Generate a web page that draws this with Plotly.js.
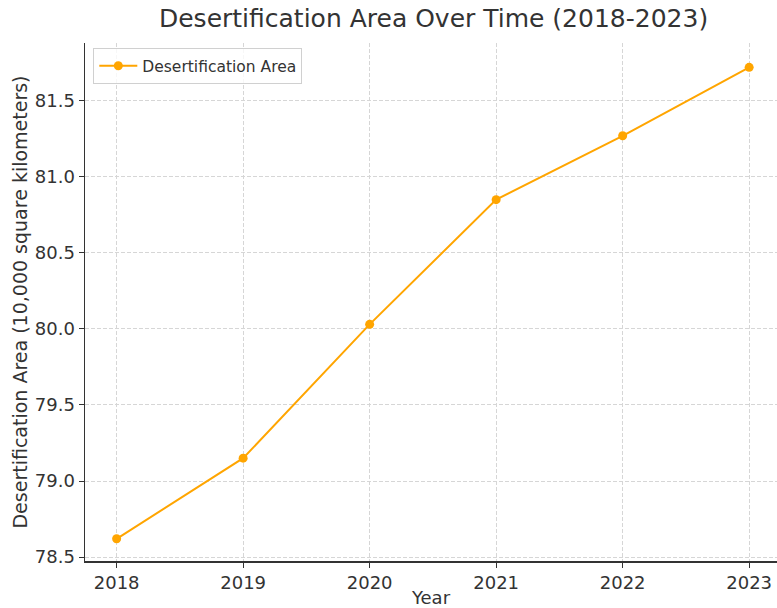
<!DOCTYPE html>
<html>
<head>
<meta charset="utf-8">
<script src="https://cdn.plot.ly/plotly-3.0.1.min.js"></script>
<style>html,body{margin:0;padding:0;background:#fff;overflow:hidden}</style>
</head>
<body>
<div id="chart" style="width:777px;height:608px"></div>
<script>
const years = [2018, 2019, 2020, 2021, 2022, 2023];
const area = [78.62, 79.15, 80.03, 80.85, 81.27, 81.72];
const yTicks = [78.5, 79.0, 79.5, 80.0, 80.5, 81.0, 81.5];
const yTickText = ["78.5", "79.0", "79.5", "80.0", "80.5", "81.0", "81.5"];

const trace = {
  x: years, y: area, type: 'scatter', mode: 'lines+markers',
  name: 'Desertification Area',
  line: {color: '#FFA500', width: 2},
  marker: {color: '#FFA500', size: 9}
};
const font = {family: 'DejaVu Sans, sans-serif', color: '#333333'};
const layout = {
  width: 777, height: 608,
  margin: {l: 85, r: 0, t: 43, b: 47},
  paper_bgcolor: '#fff', plot_bgcolor: '#fff',
  font: font,
  title: {text: 'Desertification Area Over Time (2018-2023)', font: {family: font.family, size: 25, color: '#333333'}, x: 0.558, xanchor: 'center', y: 0.985, yanchor: 'top'},
  showlegend: true,
  legend: {x: 0.012, y: 0.99, xanchor: 'left', yanchor: 'top', bgcolor: 'rgba(255,255,255,0.8)', bordercolor: '#d0d0d0', borderwidth: 1, itemwidth: 38, font: {family: font.family, size: 15.5, color: '#333333'}},
  xaxis: {
    range: [2017.75, 2023.22], tickvals: years, ticktext: years.map(String),
    showgrid: true, gridcolor: '#d6d6d6', griddash: '4px,2px', gridwidth: 1,
    showline: true, linecolor: '#333333', linewidth: 1.5,
    ticks: 'outside', ticklen: 5, tickcolor: '#333333',
    tickfont: {family: font.family, size: 18, color: '#333333'},
    zeroline: false,
    title: {text: 'Year', font: {family: font.family, size: 18, color: '#333333'}, standoff: 4}
  },
  yaxis: {
    range: [78.474, 81.88], tickvals: yTicks, ticktext: yTickText,
    showgrid: true, gridcolor: '#d6d6d6', griddash: '4px,2px', gridwidth: 1,
    showline: true, linecolor: '#333333', linewidth: 1.5,
    ticks: 'outside', ticklen: 5, tickcolor: '#333333',
    tickfont: {family: font.family, size: 18, color: '#333333'},
    zeroline: false,
    title: {text: 'Desertification Area (10,000 square kilometers)', font: {family: font.family, size: 19, color: '#333333'}, standoff: 2}
  }
};
Plotly.newPlot('chart', [trace], layout, {displayModeBar: false, staticPlot: true});
</script>
</body>
</html>
